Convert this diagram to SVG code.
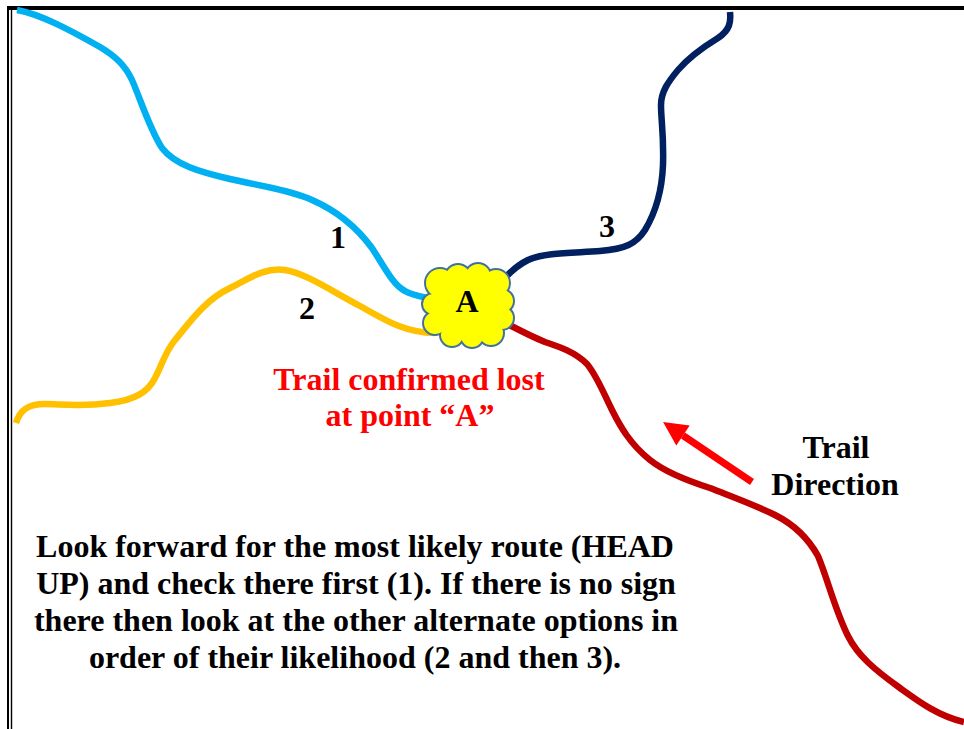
<svg xmlns="http://www.w3.org/2000/svg" width="964" height="729" viewBox="0 0 964 729">
  <style>
    .trail { fill: none; stroke-width: 6.5; stroke-linecap: butt; stroke-linejoin: round; }
    .t1 { stroke: #00B0F0; }
    .t2 { stroke: #FFC000; }
    .t3 { stroke: #002060; }
    .t4 { stroke: #C00000; }
    .txt { font-family: "Liberation Serif", "Times New Roman", serif; font-weight: bold; font-size: 32px; text-anchor: middle; fill: #000; }
    .red { fill: #FF0000; }
    .cloud-edge { fill: #41719C; stroke: #41719C; stroke-width: 4; }
    .cloud-fill { fill: #FFFF00; stroke: none; }
  </style>
  <defs>
    <marker id="arrowHead" markerUnits="userSpaceOnUse" markerWidth="24" markerHeight="24" viewBox="0 -12 24 24" refX="0" refY="0" orient="auto" overflow="visible">
      <path d="M0,-12 L24,0 L0,12 Z" fill="#FF0000"/>
    </marker>
    <!-- cloud outline built from overlapping circles; drawn twice (edge, then fill) -->
    <g id="cloudShape">
      <circle cx="467" cy="306" r="32"/>
      <circle cx="440" cy="283" r="14"/>
      <circle cx="458" cy="277" r="12"/>
      <circle cx="478" cy="276" r="12"/>
      <circle cx="496" cy="283" r="13"/>
      <circle cx="502" cy="301" r="11"/>
      <circle cx="502" cy="318" r="11"/>
      <circle cx="491" cy="333" r="12"/>
      <circle cx="472" cy="336" r="11"/>
      <circle cx="452" cy="335" r="11"/>
      <circle cx="435" cy="323" r="11"/>
      <circle cx="433" cy="304" r="10"/>
    </g>
  </defs>

  <rect width="964" height="729" fill="#FFFFFF"/>

  <!-- page frame: heavy top rule and double left rule -->
  <g id="frame" fill="#000">
    <rect x="7" y="6" width="957" height="4"/>
    <rect x="7" y="6" width="2" height="723"/>
    <rect x="10.8" y="10" width="1.4" height="719"/>
  </g>

  <!-- trails meeting at point A -->
  <g id="connectors">
    <path class="trail t1" d="M17,10 C40,14 70,30 100,47 C115,56 125,65 132,80 C140,98 150,130 162,148 C175,165 200,172 230,179 C260,186 290,190 312,200 C335,210 355,225 372,248 C385,268 393,285 405,291 C412,295 418,296 428,298"/>
    <path class="trail t2" d="M16,423 C20,410 28,404 45,404 C60,404 80,407 110,403 C135,400 148,392 155,378 C162,365 165,352 175,340 C190,322 205,300 230,288 C250,278 265,267 285,270 C305,273 330,290 360,306 C385,320 405,333 435,333"/>
    <path class="trail t3" d="M730,12 C731,22 730,30 718,38 C705,46 690,56 678,70 C668,82 661,92 661,105 C661,120 664,135 663,165 C662,190 657,210 645,230 C636,244 625,249 600,251 C575,253 545,252 528,260 C518,265 510,272 503,280"/>
    <path class="trail t4" d="M498,319 C515,328 530,336 545,342 C560,347 575,352 587,364 C597,376 603,392 612,410 C620,426 630,444 650,460 C665,472 685,480 710,488 C730,496 755,505 775,515 C795,525 808,538 818,556 C828,580 835,610 848,636 C858,656 875,670 900,688 C918,701 938,716 964,722"/>
    <line id="trail-direction-arrow" x1="752" y1="482" x2="683" y2="435.5" stroke="#FF0000" stroke-width="7" marker-end="url(#arrowHead)"/>
  </g>

  <!-- point A -->
  <g id="point-A">
    <use href="#cloudShape" class="cloud-edge"/>
    <use href="#cloudShape" class="cloud-fill"/>
    <text class="txt" x="467" y="312">A</text>
  </g>

  <g id="label-1"><text class="txt" x="338" y="248">1</text></g>
  <g id="label-2"><text class="txt" x="307" y="319">2</text></g>
  <g id="label-3"><text class="txt" x="607" y="237">3</text></g>

  <g id="lost-note">
    <text class="txt red" x="409" y="390">Trail confirmed lost</text>
    <text class="txt red" x="410" y="426">at point “A”</text>
  </g>

  <g id="direction-label">
    <text class="txt" x="836" y="458">Trail</text>
    <text class="txt" x="835" y="495">Direction</text>
  </g>

  <g id="instructions">
    <text class="txt" x="355" y="557">Look forward for the most likely route (HEAD</text>
    <text class="txt" x="356" y="594">UP) and check there first (1). If there is no sign</text>
    <text class="txt" x="356" y="631">there then look at the other alternate options in</text>
    <text class="txt" x="355" y="668">order of their likelihood (2 and then 3).</text>
  </g>
</svg>
